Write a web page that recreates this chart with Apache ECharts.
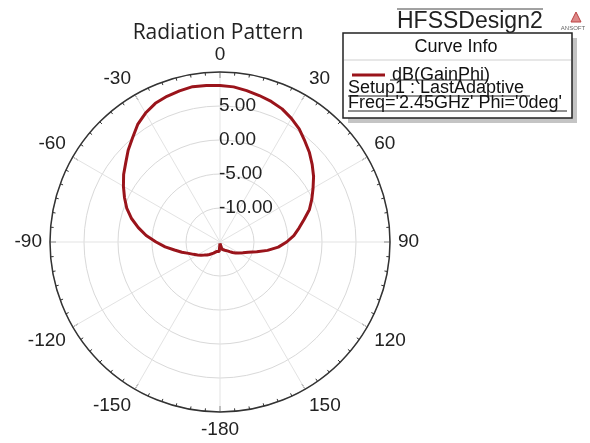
<!DOCTYPE html>
<html><head><meta charset="utf-8">
<script src="https://cdn.jsdelivr.net/npm/echarts@6/dist/echarts.min.js"></script>
<style>html,body{margin:0;padding:0;background:#fff}#c{width:590px;height:443px}</style>
</head><body><div id="c"></div>
<script>
// Theta (deg) and dB(GainPhi)
const thetaDeg = [-180,-175,-170,-165,-160,-155,-150,-145,-140,-135,-130,-125,-120,-115,-110,-105,-100,-95,-90,-85,-80,-75,-70,-65,-60,-55,-50,-45,-40,-35,-30,-25,-20,-15,-10,-5,0,5,10,15,20,25,30,35,40,45,50,55,60,65,70,75,80,85,90,95,100,105,110,115,120,125,130,135,140,145,150,155,160,165,170,175,180];
const gainDb = [-14.8,-13.6,-13.8,-13.6,-13.5,-13.3,-13.1,-12.9,-12.6,-12.3,-12.0,-11.6,-11.2,-10.7,-10.1,-9.2,-8.2,-6.9,-5.6,-4.1,-2.8,-1.5,-0.4,0.5,1.4,2.3,3.1,4.1,5.0,6.1,6.9,7.5,7.8,8.0,8.2,8.1,8.0,7.9,7.6,7.3,7.0,6.6,6.0,5.3,4.4,3.6,2.7,1.8,0.8,-0.1,-1.0,-2.2,-3.2,-4.1,-5.2,-6.4,-7.9,-9.4,-10.6,-11.3,-11.8,-12.2,-12.6,-13.0,-13.3,-13.5,-13.6,-13.8,-13.8,-13.9,-14.0,-13.9,-14.8];
const radialLabels = [-10, -5, 0, 5];
const seriesName = 'dB(GainPhi)';
const legendLines = ["Setup1 : LastAdaptive", "Freq='2.45GHz' Phi='0deg'"];

const data = thetaDeg.map((t, i) => [gainDb[i], t < 0 ? t + 360 : t]);
const chart = echarts.init(document.getElementById('c'));
const lab = 'Liberation Sans, Arial, sans-serif';
chart.setOption({
  backgroundColor: '#fff',
  animation: false,
  polar: { center: [220, 242], radius: 170 },
  angleAxis: {
    type: 'value', min: 0, max: 360, interval: 30, startAngle: 90, clockwise: true,
    axisLine: { lineStyle: { color: '#333', width: 1.5 } },
    axisTick: { show: true, inside: true, length: 6, lineStyle: { color: '#333', width: 1 } },
    minorTick: { show: true, splitNumber: 6, length: 3, lineStyle: { color: '#333', width: 1 } },
    splitLine: { show: true, lineStyle: { color: '#e3e3e3', width: 1 } },
    axisLabel: {
      margin: 8, fontSize: 19, color: '#222', fontFamily: lab,
      formatter: v => v === 360 ? '' : (v >= 180 ? String(v - 360) : String(v))
    }
  },
  radiusAxis: {
    type: 'value', min: -15, max: 10, interval: 5,
    axisLine: { show: false }, axisTick: { show: false },
    splitLine: { show: true, lineStyle: { color: '#d9d9d9', width: 1 } },
    axisLabel: {
      fontSize: 19, color: '#222', fontFamily: lab, align: 'left', margin: 1,
      formatter: v => radialLabels.indexOf(v) >= 0 ? v.toFixed(2) : ''
    }
  },
  legend: {
    data: [seriesName], left: 347, top: 61, itemWidth: 33, itemHeight: 3, icon: 'rect', itemGap: 8, z: 10,
    textStyle: { fontSize: 18, fontFamily: lab, color: '#111', padding: [0, 0, 0, 2] }
  },
  series: [{
    name: seriesName, type: 'line', coordinateSystem: 'polar', data: data,
    symbol: 'none', lineStyle: { color: '#9a141b', width: 3 }, itemStyle: { color: '#9a141b' }
  }],
  graphic: [
    { type: 'text', x: 218, y: 33, z: 5, style: { text: 'Radiation Pattern', align: 'center', verticalAlign: 'middle', font: '21px "Open Sans", sans-serif', fill: '#222' } },
    { type: 'text', x: 397, y: 22, z: 5, style: { text: 'HFSSDesign2', align: 'left', verticalAlign: 'middle', font: '23px ' + lab, fill: '#222' } },
    { type: 'line', z: 5, shape: { x1: 397, y1: 9, x2: 543, y2: 9 }, style: { stroke: '#444', lineWidth: 1 } },
    { type: 'polygon', z: 5, shape: { points: [[576, 12], [571, 22], [581, 22]] }, style: { fill: '#d88', stroke: '#b44' } },
    { type: 'text', x: 573, y: 28, z: 5, style: { text: 'ANSOFT', align: 'center', verticalAlign: 'middle', font: '6px ' + lab, fill: '#666' } },
    { type: 'rect', z: 5, shape: { x: 348, y: 38, width: 229, height: 85 }, style: { fill: '#c4c4c4' } },
    { type: 'rect', z: 6, shape: { x: 343, y: 33, width: 229, height: 85 }, style: { fill: '#fff', stroke: '#222', lineWidth: 1.5 } },
    { type: 'line', z: 7, shape: { x1: 344, y1: 60, x2: 571, y2: 60 }, style: { stroke: '#cfcfcf', lineWidth: 1 } },
    { type: 'text', x: 456, y: 47, z: 7, style: { text: 'Curve Info', align: 'center', verticalAlign: 'middle', font: '18px ' + lab, fill: '#111' } },
    { type: 'text', x: 348, y: 88, z: 7, style: { text: legendLines[0], align: 'left', verticalAlign: 'middle', font: '18px ' + lab, fill: '#111' } },
    { type: 'text', x: 348, y: 103, z: 7, style: { text: legendLines[1], align: 'left', verticalAlign: 'middle', font: '18px ' + lab, fill: '#111' } },
    { type: 'line', z: 7, shape: { x1: 390, y1: 80, x2: 488, y2: 80 }, style: { stroke: '#222', lineWidth: 1 } },
    { type: 'line', z: 7, shape: { x1: 348, y1: 96, x2: 530, y2: 96 }, style: { stroke: '#222', lineWidth: 1 } },
    { type: 'line', z: 7, shape: { x1: 348, y1: 111, x2: 567, y2: 111 }, style: { stroke: '#222', lineWidth: 1 } }
  ]
});
</script></body></html>
